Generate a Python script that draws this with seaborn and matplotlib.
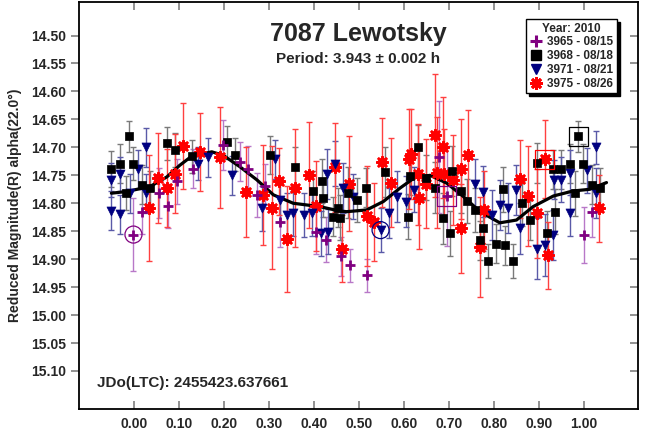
import numpy as np
import pandas as pd
import matplotlib
matplotlib.use("Agg")
import matplotlib.pyplot as plt
from matplotlib.lines import Line2D
import seaborn as sns

# ---------------- data ----------------
series_names = ["3965 - 08/15", "3968 - 08/18", "3971 - 08/21", "3975 - 08/26"]

p_phase = [-0.001, 0.019, 0.056, 0.076, 0.095, 0.132, 0.198, 0.236, 0.254, 0.273, 0.291,
           0.324, 0.405, 0.426, 0.461, 0.480, 0.518, 0.678, 0.695, 1.000, 1.017]
p_mag = [14.856, 14.815, 14.782, 14.805, 14.761, 14.738, 14.696, 14.726, 14.738, 14.785, 14.769,
         14.833, 14.851, 14.865, 14.895, 14.911, 14.929, 14.717, 14.787, 14.856, 14.815]
p_err = [0.065, 0.040, 0.045, 0.040, 0.040, 0.035, 0.045, 0.035, 0.040, 0.040, 0.040,
         0.045, 0.040, 0.040, 0.035, 0.030, 0.030, 0.100, 0.090, 0.050, 0.045]

k_phase = [-0.050, -0.030, -0.018, -0.011, -0.003, 0.017, 0.036, 0.073, 0.091, 0.129, 0.207,
           0.225, 0.302, 0.358, 0.398, 0.419, 0.421, 0.443, 0.454, 0.458, 0.476, 0.496,
           0.516, 0.558, 0.610, 0.613, 0.632, 0.650, 0.670, 0.686, 0.702, 0.706, 0.726,
           0.739, 0.758, 0.769, 0.776, 0.787, 0.804, 0.819, 0.824, 0.843, 0.862, 0.880,
           0.895, 0.917, 0.932, 0.936, 0.950, 0.969, 0.981, 0.987, 0.998, 1.017, 1.036]
k_mag = [14.739, 14.729, 14.782, 14.680, 14.729, 14.767, 14.772, 14.693, 14.705, 14.716, 14.691,
         14.713, 14.713, 14.735, 14.778, 14.760, 14.790, 14.824, 14.808, 14.826, 14.781, 14.794,
         14.772, 14.744, 14.824, 14.751, 14.700, 14.754, 14.772, 14.827, 14.854, 14.742, 14.778,
         14.796, 14.812, 14.866, 14.845, 14.903, 14.872, 14.775, 14.875, 14.903, 14.800, 14.830,
         14.728, 14.853, 14.739, 14.815, 14.739, 14.729, 14.782, 14.680, 14.729, 14.767, 14.772]
k_err = [0.032, 0.035, 0.030, 0.028, 0.030, 0.035, 0.030, 0.030, 0.030, 0.030, 0.030,
         0.030, 0.034, 0.035, 0.035, 0.040, 0.035, 0.035, 0.035, 0.040, 0.045, 0.040,
         0.035, 0.045, 0.040, 0.035, 0.040, 0.040, 0.045, 0.045, 0.040, 0.045, 0.040,
         0.040, 0.040, 0.035, 0.040, 0.030, 0.035, 0.040, 0.035, 0.030, 0.040, 0.035,
         0.035, 0.040, 0.035, 0.040, 0.035, 0.035, 0.040, 0.028, 0.035, 0.035, 0.035]

b_phase = [-0.050, -0.050, -0.030, -0.030, -0.009, 0.010, 0.027, 0.027, 0.143, 0.165, 0.219,
           0.284, 0.313, 0.324, 0.341, 0.354, 0.378, 0.396, 0.415, 0.428, 0.432, 0.447,
           0.465, 0.487, 0.548, 0.567, 0.585, 0.604, 0.622, 0.758, 0.776, 0.795, 0.813,
           0.832, 0.850, 0.858, 0.895, 0.913, 0.932, 0.933, 0.950, 0.969, 0.969, 1.007,
           1.027, 1.027]
b_mag = [14.758, 14.813, 14.748, 14.820, 14.782, 14.739, 14.700, 14.782, 14.729, 14.718, 14.750,
         14.809, 14.721, 14.794, 14.821, 14.818, 14.821, 14.818, 14.854, 14.748, 14.851, 14.729,
         14.773, 14.788, 14.848, 14.818, 14.788, 14.797, 14.776, 14.766, 14.779, 14.821, 14.803,
         14.809, 14.776, 14.845, 14.881, 14.875, 14.857, 14.758, 14.758, 14.745, 14.818, 14.741,
         14.700, 14.782]
b_err = [0.030, 0.035, 0.030, 0.035, 0.035, 0.035, 0.035, 0.035, 0.030, 0.035, 0.035,
         0.040, 0.035, 0.040, 0.040, 0.040, 0.040, 0.040, 0.040, 0.045, 0.040, 0.040,
         0.045, 0.040, 0.040, 0.045, 0.045, 0.045, 0.040, 0.045, 0.045, 0.045, 0.045,
         0.045, 0.045, 0.045, 0.055, 0.055, 0.045, 0.035, 0.040, 0.040, 0.040, 0.040,
         0.030, 0.045]

r_phase = [0.034, 0.054, 0.073, 0.092, 0.110, 0.147, 0.191, 0.248, 0.286, 0.307, 0.322,
           0.341, 0.359, 0.389, 0.405, 0.447, 0.462, 0.478, 0.517, 0.534, 0.552, 0.572,
           0.612, 0.615, 0.632, 0.633, 0.649, 0.669, 0.673, 0.687, 0.690, 0.710, 0.726,
           0.726, 0.743, 0.770, 0.778, 0.858, 0.876, 0.896, 0.913, 0.921, 1.034]
r_mag = [14.809, 14.755, 14.773, 14.747, 14.697, 14.708, 14.718, 14.780, 14.785, 14.808, 14.761,
         14.864, 14.773, 14.750, 14.805, 14.736, 14.881, 14.765, 14.823, 14.833, 14.727, 14.763,
         14.721, 14.712, 14.748, 14.791, 14.765, 14.678, 14.745, 14.700, 14.748, 14.758, 14.739,
         14.845, 14.714, 14.878, 14.812, 14.757, 14.787, 14.818, 14.721, 14.893, 14.809]
r_err = [0.095, 0.080, 0.070, 0.070, 0.077, 0.070, 0.090, 0.080, 0.090, 0.110, 0.060,
         0.095, 0.105, 0.095, 0.080, 0.080, 0.060, 0.085, 0.090, 0.070, 0.080, 0.080,
         0.090, 0.080, 0.090, 0.090, 0.080, 0.110, 0.100, 0.090, 0.080, 0.080, 0.090,
         0.080, 0.080, 0.090, 0.070, 0.070, 0.090, 0.080, 0.070, 0.060, 0.060]

fit_phase = [-0.050, -0.016, 0.036, 0.073, 0.102, 0.128, 0.173, 0.198, 0.236, 0.273, 0.310,
             0.354, 0.413, 0.458, 0.473, 0.517, 0.554, 0.591, 0.624, 0.658, 0.695, 0.732,
             0.769, 0.813, 0.850, 0.887, 0.932, 0.976, 1.013, 1.050]
fit_mag = [14.782, 14.779, 14.770, 14.753, 14.732, 14.716, 14.708, 14.714, 14.735, 14.758, 14.785,
           14.800, 14.806, 14.814, 14.815, 14.812, 14.797, 14.773, 14.754, 14.750, 14.764, 14.788,
           14.815, 14.835, 14.830, 14.806, 14.787, 14.778, 14.775, 14.763]

# highlighted points (circle/box annotations)
circ_phase = [-0.001, 0.548]
circ_mag = [14.856, 14.848]
box_phase = [0.695, 0.913, 0.987]
box_mag = [14.787, 14.721, 14.680]

# ---------------- style ----------------
sns.set_theme(style="white")
plt.rcParams['font.family'] = ['Liberation Sans', 'DejaVu Sans']
plt.rcParams['font.weight'] = 'bold'

fig = plt.figure(figsize=(6.49, 4.38), dpi=100)
ax = fig.add_axes([79/649, 29/438, (638-79)/649, (409-2)/438])

colors = {"3965 - 08/15": "#800080", "3968 - 08/18": "#000000",
          "3971 - 08/21": "#000080", "3975 - 08/26": "#ff0000"}
ecolors = {"3965 - 08/15": "#b878c8", "3968 - 08/18": "#7a7a7a",
           "3971 - 08/21": "#5a5aa8", "3975 - 08/26": "#ff4040"}

data = {
    "3965 - 08/15": (p_phase, p_mag, p_err),
    "3968 - 08/18": (k_phase, k_mag, k_err),
    "3971 - 08/21": (b_phase, b_mag, b_err),
    "3975 - 08/26": (r_phase, r_mag, r_err),
}

# error bars
for name in series_names:
    ph, mg, er = data[name]
    ax.errorbar(ph, mg, yerr=er, fmt='none', ecolor=ecolors[name],
                elinewidth=1.0, capsize=2.5, capthick=1.0, zorder=2)

# fit curve
fit_df = pd.DataFrame({"phase": fit_phase, "mag": fit_mag})
sns.lineplot(data=fit_df, x="phase", y="mag", color="black", lw=2.3, ax=ax,
             sort=True, zorder=4)

# points
frames = []
for name in series_names:
    ph, mg, er = data[name]
    frames.append(pd.DataFrame({"phase": ph, "mag": mg, "series": name}))
df = pd.concat(frames, ignore_index=True)

for name in ["3975 - 08/26", "3971 - 08/21", "3968 - 08/18", "3965 - 08/15"]:
    sub = df[df.series == name]
    if name == "3965 - 08/15":
        sns.scatterplot(data=sub, x="phase", y="mag", marker="+", s=60,
                        color=colors[name], linewidth=2.0, ax=ax, zorder=5, legend=False)
    elif name == "3975 - 08/26":
        sns.scatterplot(data=sub, x="phase", y="mag", marker=(8, 2, 0), s=55,
                        color=colors[name], edgecolor=colors[name], linewidth=2.0,
                        ax=ax, zorder=5, legend=False)
    elif name == "3968 - 08/18":
        sns.scatterplot(data=sub, x="phase", y="mag", marker="s", s=38,
                        color=colors[name], edgecolor=colors[name], linewidth=0.5,
                        ax=ax, zorder=5, legend=False)
    else:
        sns.scatterplot(data=sub, x="phase", y="mag", marker="v", s=42,
                        color=colors[name], edgecolor=colors[name], linewidth=0.5,
                        ax=ax, zorder=5, legend=False)

# annotations: circles and boxes
ax.scatter(circ_phase, circ_mag, s=150, facecolors='none',
           edgecolors=["#800080", "#000080"], linewidths=0.9, zorder=6)
ax.scatter(box_phase, box_mag, s=190, marker='s', facecolors='none',
           edgecolors=["#800080", "#ff0000", "#000000"], linewidths=0.9, zorder=6)

# axes
ax.set_xlim(-0.122, 1.12)
ax.set_ylim(15.168, 14.44)
xt = np.round(np.arange(0.0, 1.001, 0.1), 2)
ax.set_xticks(xt)
ax.set_xticklabels([f"{v:.2f}" for v in xt], fontsize=10, fontweight='bold')
yt = np.round(np.arange(14.50, 15.101, 0.05), 2)
ax.set_yticks(yt)
ax.set_yticklabels([f"{v:.2f}" for v in yt], fontsize=10, fontweight='bold')
ax.tick_params(axis='x', direction='in', length=6, color='#808080', width=1.2,
               top=True, bottom=True, pad=6)
ax.tick_params(axis='y', which='both', left=True, right=False, direction='out',
               length=6, color='#808080', width=1.2)
# right side inward ticks
axr = ax.secondary_yaxis('right')
axr.set_yticks(yt)
axr.set_yticklabels([])
axr.tick_params(axis='y', direction='in', length=6, color='#808080', width=1.2)
axr.spines['right'].set_visible(False)

for sp in ax.spines.values():
    sp.set_color('black')
    sp.set_linewidth(1.3)

ax.set_xlabel("")
ax.set_ylabel("Reduced Magnitude(R) alpha(22.0°)", fontsize=10, fontweight='bold', labelpad=6)

# titles and text
ax.text(0.5, 0.922, "7087 Lewotsky", transform=ax.transAxes, ha='center', va='center',
        fontsize=18, fontweight='bold')
ax.text(0.5, 0.860, "Period: 3.943 ± 0.002 h", transform=ax.transAxes, ha='center',
        va='center', fontsize=11, fontweight='bold')
ax.text(0.032, 0.063, "JDo(LTC): 2455423.637661", transform=ax.transAxes, ha='left',
        va='center', fontsize=11, fontweight='bold')

# legend
handles = [
    Line2D([], [], marker='+', color='#800080', ls='none', markersize=9, markeredgewidth=2.2),
    Line2D([], [], marker='s', color='black', ls='none', markersize=7),
    Line2D([], [], marker='v', color='#000080', ls='none', markersize=7),
    Line2D([], [], marker=(8, 2, 0), color='#ff0000', ls='none', markersize=9, markeredgewidth=2),
]
leg = ax.legend(handles, series_names, title="Year: 2010", loc='upper right',
                bbox_to_anchor=(0.962, 0.958), frameon=True, fancybox=False,
                shadow={'color': 'black', 'alpha': 1.0}, prop={'weight': 'bold', 'size': 8.5},
                title_fontproperties={'weight': 'bold', 'size': 8.5},
                handletextpad=0.3, borderpad=0.3, labelspacing=0.15, handlelength=1.2,
                borderaxespad=0.0)
leg.get_frame().set_edgecolor('black')
leg.get_frame().set_linewidth(1.0)
leg.set_zorder(10)

fig.savefig("out.png", dpi=100)
